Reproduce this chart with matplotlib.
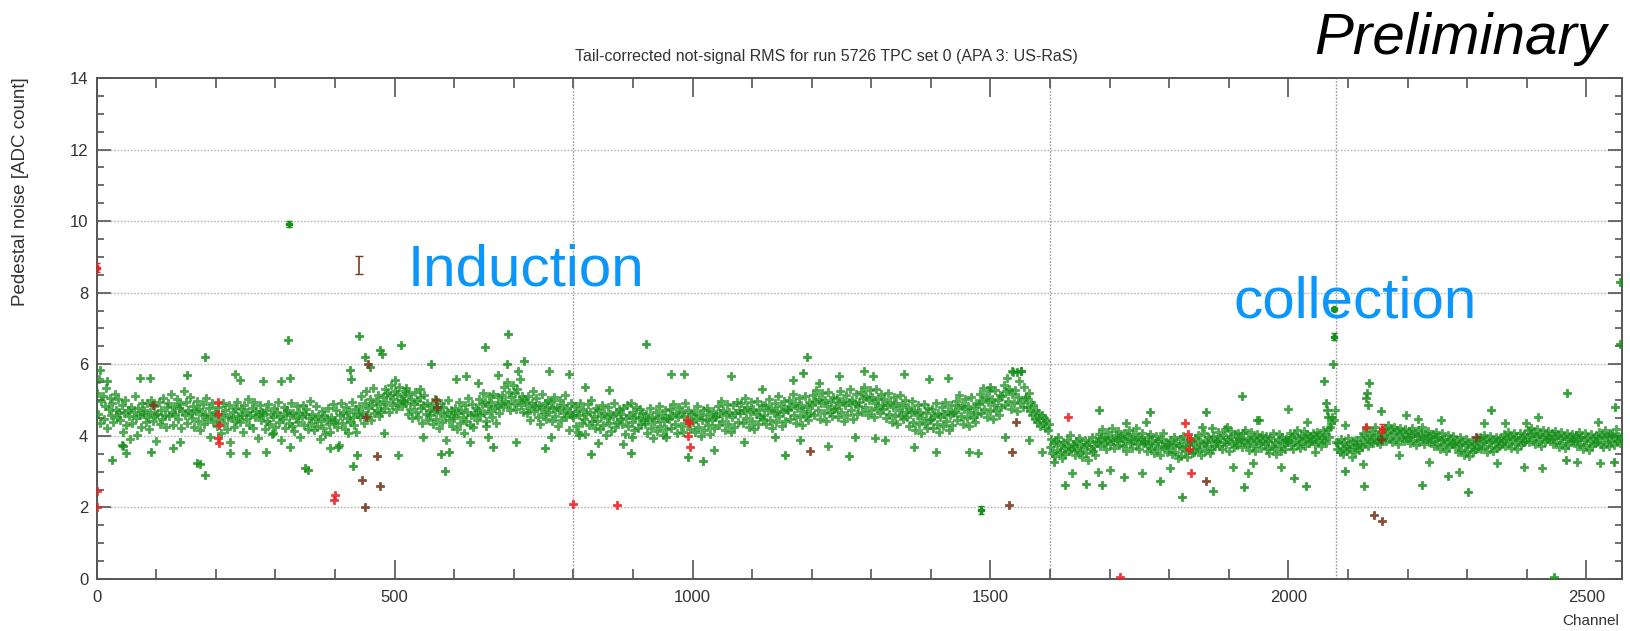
import numpy as np
import matplotlib
matplotlib.use('Agg')
import matplotlib.pyplot as plt
from matplotlib.ticker import MultipleLocator

# Pedestal noise per channel (every 2nd channel)
U_PLANE = [  # channels 0-799
    5.21, 4.62, 5.58, 4.35, 4.97, 5.12, 4.48, 4.83, 5.34, 4.21, 4.76, 5.05, 4.58, 4.92, 4.39, 5.18, 4.71, 4.54, 5.02, 4.66,
    4.44, 4.87, 4.12, 4.63, 5.01, 4.29, 4.72, 4.55, 3.91, 4.81, 4.36, 4.68, 5.12, 4.49, 4.03, 4.77, 4.58, 4.26, 4.93, 4.61,
    4.73, 4.38, 4.91, 4.52, 4.18, 4.66, 4.99, 4.41, 4.84, 4.57, 3.86, 4.62, 4.95, 4.33, 4.71, 4.48, 5.07, 4.59, 4.24, 4.80,
    4.92, 4.55, 5.18, 4.68, 4.31, 4.84, 4.61, 5.03, 4.46, 4.77, 4.89, 4.22, 4.70, 5.24, 4.58, 4.95, 4.37, 4.73, 5.09, 4.64,
    4.51, 4.83, 4.26, 4.69, 4.97, 4.42, 4.75, 4.15, 4.58, 4.88, 4.34, 4.62, 5.05, 4.47, 4.79, 3.98, 4.56, 4.91, 4.39, 4.66,
    4.62, 4.28, 4.81, 4.45, 4.09, 4.57, 4.93, 4.36, 4.71, 4.18, 4.53, 4.86, 3.82, 4.49, 4.67, 4.24, 4.78, 4.41, 4.96, 4.55,
    4.38, 4.74, 4.59, 4.12, 4.85, 4.47, 4.66, 5.02, 4.31, 4.58, 4.79, 4.22, 4.94, 4.53, 4.70, 3.95, 4.62, 4.87, 4.44, 4.68,
    4.57, 4.19, 4.73, 4.42, 4.88, 4.33, 4.61, 4.05, 4.52, 4.79, 4.26, 4.68, 4.95, 4.38, 4.55, 3.89, 4.47, 4.82, 4.23, 4.64,
    4.71, 4.35, 4.58, 4.92, 4.27, 4.64, 4.13, 4.49, 4.83, 4.40, 4.67, 3.98, 4.55, 4.86, 4.31, 4.62, 4.76, 4.18, 4.51, 4.97,
    4.36, 4.62, 4.15, 4.48, 4.83, 4.27, 4.55, 3.92, 4.41, 4.69, 4.22, 4.58, 4.04, 4.47, 4.78, 4.33, 4.11, 4.52, 4.88, 4.39,
    4.44, 4.71, 4.26, 3.74, 4.58, 4.92, 4.35, 4.63, 4.19, 4.81, 4.50, 4.08, 4.67, 4.38, 4.95, 4.54, 4.29, 4.76, 4.12, 4.61,
    4.83, 4.52, 5.11, 4.68, 4.35, 4.91, 5.24, 4.59, 4.77, 5.02, 4.44, 4.86, 5.33, 4.63, 4.98, 4.71, 5.15, 4.55, 4.89, 4.67,
    5.08, 4.79, 5.32, 4.95, 5.21, 4.68, 5.14, 5.41, 4.87, 5.03, 5.26, 4.74, 5.18, 4.92, 5.36, 5.01, 4.83, 5.12, 4.97, 5.24,
    4.93, 4.61, 5.16, 4.75, 5.02, 4.49, 4.88, 5.23, 4.67, 4.97, 4.54, 5.09, 4.78, 4.36, 4.85, 5.14, 4.62, 4.91, 4.43, 4.72,
    4.58, 4.86, 4.32, 4.69, 5.04, 4.47, 4.75, 4.21, 4.63, 4.92, 4.38, 4.81, 4.55, 3.89, 4.66, 4.99, 4.43, 4.72, 4.28, 4.57,
    4.49, 4.77, 4.18, 4.64, 4.95, 4.36, 4.71, 4.53, 4.08, 4.85, 4.42, 4.67, 5.06, 4.31, 4.58, 4.89, 4.24, 4.62, 4.79, 4.45,
    4.72, 5.03, 4.58, 4.89, 5.21, 4.65, 4.96, 4.41, 4.83, 5.12, 4.69, 4.94, 4.52, 5.17, 4.78, 4.35, 4.87, 5.08, 4.63, 4.91,
    5.14, 4.82, 5.36, 4.97, 5.51, 4.88, 5.23, 4.71, 5.08, 5.42, 4.93, 5.19, 4.76, 5.31, 4.99, 5.58, 4.85, 5.12, 4.67, 5.04,
    4.96, 4.63, 5.12, 4.78, 4.45, 4.91, 5.24, 4.69, 4.84, 5.05, 4.52, 4.87, 4.33, 4.75, 5.16, 4.61, 4.93, 4.48, 4.82, 5.01,
    4.68, 4.94, 4.41, 4.77, 5.09, 4.56, 4.82, 4.28, 4.71, 4.99, 4.45, 4.86, 4.63, 5.13, 4.52, 4.79, 4.17, 4.66, 4.91, 4.58,
]
V_PLANE = [  # channels 800-1599
    4.53, 4.84, 4.27, 4.69, 4.12, 4.58, 4.93, 4.36, 4.74, 4.47, 4.05, 4.62, 4.88, 4.31, 4.67, 4.99, 4.42, 4.56, 4.21, 4.78,
    4.41, 4.73, 4.18, 4.56, 4.87, 4.29, 4.64, 4.02, 4.49, 4.82, 4.35, 4.61, 4.13, 4.55, 4.91, 4.24, 4.68, 4.39, 4.76, 4.47,
    4.62, 4.34, 4.79, 4.06, 4.51, 4.86, 4.27, 4.58, 4.93, 4.38, 4.67, 4.15, 4.54, 4.82, 4.21, 4.49, 4.74, 4.32, 4.63, 4.45,
    4.33, 4.61, 4.08, 4.46, 4.79, 4.22, 4.54, 3.95, 4.38, 4.67, 4.14, 4.49, 4.83, 4.27, 4.58, 4.02, 4.42, 4.71, 4.19, 4.51,
    4.47, 4.75, 4.21, 4.58, 4.89, 4.33, 4.64, 4.09, 4.52, 4.81, 4.28, 4.67, 4.12, 4.55, 4.92, 4.36, 4.71, 4.44, 4.18, 4.62,
    4.38, 4.66, 4.12, 4.51, 4.84, 4.25, 4.57, 3.99, 4.43, 4.72, 4.17, 4.48, 4.79, 4.31, 4.62, 4.06, 4.45, 4.69, 4.22, 4.54,
    4.56, 4.83, 4.29, 4.65, 4.97, 4.41, 4.72, 4.17, 4.59, 4.88, 4.34, 4.68, 4.11, 4.52, 4.85, 4.26, 4.63, 4.94, 4.38, 4.71,
    4.64, 4.91, 4.37, 4.73, 5.06, 4.49, 4.81, 4.25, 4.67, 4.95, 4.42, 4.76, 4.19, 4.61, 4.98, 4.34, 4.72, 4.53, 4.87, 4.46,
    4.59, 4.86, 4.32, 4.71, 5.02, 4.44, 4.77, 4.21, 4.63, 4.92, 4.38, 4.69, 5.11, 4.55, 4.84, 4.27, 4.66, 4.98, 4.41, 4.74,
    4.73, 5.01, 4.46, 4.84, 5.17, 4.58, 4.91, 4.35, 4.78, 5.06, 4.52, 4.87, 4.29, 4.69, 5.12, 4.55, 4.82, 4.43, 4.96, 4.65,
    4.86, 5.14, 4.59, 4.97, 5.28, 4.71, 5.03, 4.48, 4.91, 5.19, 4.64, 4.99, 4.42, 4.83, 5.22, 4.67, 4.94, 4.55, 5.08, 4.76,
    4.79, 5.07, 4.53, 4.92, 5.24, 4.66, 4.98, 4.41, 4.85, 5.13, 4.58, 4.94, 5.31, 4.72, 5.01, 4.47, 4.89, 5.16, 4.62, 4.83,
    4.95, 5.22, 4.68, 5.06, 5.37, 4.81, 5.12, 4.57, 4.99, 5.28, 4.73, 5.09, 4.52, 4.93, 5.31, 4.77, 5.04, 4.64, 5.18, 4.86,
    4.76, 5.03, 4.49, 4.87, 5.19, 4.62, 4.94, 4.38, 4.81, 5.09, 4.55, 4.91, 4.33, 4.72, 5.13, 4.58, 4.85, 4.46, 4.99, 4.67,
    4.54, 4.82, 4.27, 4.66, 4.97, 4.39, 4.71, 4.16, 4.58, 4.87, 4.33, 4.68, 4.09, 4.51, 4.89, 4.36, 4.63, 4.22, 4.77, 4.45,
    4.48, 4.76, 4.22, 4.59, 4.91, 4.34, 4.65, 4.11, 4.53, 4.81, 4.27, 4.62, 4.96, 4.41, 4.69, 4.15, 4.57, 4.85, 4.31, 4.64,
    4.68, 4.97, 4.43, 4.81, 5.13, 4.56, 4.87, 4.32, 4.75, 5.04, 4.49, 4.84, 4.27, 4.66, 5.08, 4.53, 4.79, 4.38, 4.92, 4.61,
    4.89, 5.18, 4.63, 5.01, 5.34, 4.76, 5.08, 4.52, 4.95, 5.25, 4.69, 5.04, 4.46, 4.87, 5.29, 4.73, 4.99, 4.58, 5.13, 4.81,
    5.12, 5.41, 4.86, 5.24, 5.63, 4.98, 5.31, 4.74, 5.17, 5.78, 4.92, 5.27, 4.69, 5.09, 5.52, 4.95, 5.82, 4.81, 5.36, 5.03,
    5.08, 4.82, 5.21, 4.69, 4.94, 4.58, 4.86, 4.47, 4.73, 4.39, 4.65, 4.51, 4.28, 4.57, 4.36, 4.49, 4.21, 4.43, 4.15, 4.32,
]
X_PLANE_1 = [  # channels 1600-2079
    3.68, 3.91, 3.52, 3.79, 3.43, 3.86, 3.61, 3.97, 3.55, 3.74, 3.38, 3.82, 3.65, 3.49, 3.88, 3.71, 3.58, 4.02, 3.63, 3.77,
    3.72, 3.47, 3.85, 3.61, 3.94, 3.56, 3.78, 3.41, 3.69, 3.89, 3.53, 3.75, 3.33, 3.82, 3.64, 3.98, 3.59, 3.73, 3.46, 3.87,
    3.83, 4.06, 3.71, 3.95, 4.18, 3.79, 3.98, 3.62, 3.89, 4.12, 3.76, 3.93, 4.21, 3.85, 3.67, 4.03, 3.88, 4.14, 3.74, 3.96,
    3.94, 3.72, 4.09, 3.86, 3.58, 3.99, 4.15, 3.81, 3.92, 3.67, 4.04, 3.89, 4.22, 3.76, 3.97, 3.63, 3.91, 4.08, 3.79, 3.85,
    3.81, 3.59, 3.96, 3.74, 4.05, 3.66, 3.88, 3.51, 3.79, 4.01, 3.63, 3.85, 3.47, 3.92, 3.71, 4.09, 3.68, 3.83, 3.56, 3.77,
    3.66, 3.88, 3.49, 3.75, 3.97, 3.54, 3.79, 3.38, 3.71, 3.92, 3.45, 3.68, 3.99, 3.57, 3.83, 3.42, 3.74, 3.61, 3.86, 3.52,
    3.78, 3.55, 3.94, 3.69, 4.03, 3.62, 3.86, 3.47, 3.81, 4.07, 3.58, 3.84, 3.71, 3.96, 3.52, 3.89, 3.64, 4.01, 3.73, 3.87,
    3.86, 4.11, 3.73, 3.95, 3.64, 4.03, 3.82, 4.19, 3.77, 3.92, 3.58, 3.98, 4.14, 3.81, 3.69, 4.06, 3.87, 3.74, 4.09, 3.91,
    3.92, 3.68, 4.07, 3.84, 4.16, 3.76, 3.95, 3.61, 3.89, 4.12, 3.73, 3.98, 3.57, 3.87, 4.05, 3.79, 3.93, 3.66, 4.02, 3.85,
    3.77, 4.01, 3.63, 3.86, 3.52, 3.93, 3.71, 4.08, 3.66, 3.84, 3.49, 3.89, 4.04, 3.73, 3.58, 3.96, 3.79, 3.62, 3.91, 3.83,
    3.88, 4.09, 3.74, 3.97, 3.62, 4.04, 3.83, 4.17, 3.78, 3.95, 3.66, 4.01, 3.86, 4.13, 3.71, 3.93, 4.06, 3.79, 3.99, 3.85,
    3.91, 4.07, 3.76, 3.98, 4.12, 3.84, 4.03, 3.72, 3.95, 4.15, 3.88, 4.06, 3.81, 4.18, 3.97, 4.24, 4.36, 4.52, 4.43, 4.71,
]
X_PLANE_2 = [  # channels 2080-2559
    3.84, 3.62, 3.79, 3.54, 3.91, 3.67, 3.48, 3.82, 3.71, 3.58, 3.94, 3.63, 3.77, 3.42, 3.86, 3.69, 3.56, 3.88, 3.74, 3.61,
    3.78, 3.96, 3.69, 4.08, 3.84, 4.21, 3.91, 3.73, 4.02, 3.87, 4.14, 3.79, 3.98, 4.26, 3.83, 4.05, 3.92, 3.76, 4.11, 3.89,
    4.03, 4.21, 3.87, 4.12, 4.31, 3.95, 4.18, 3.82, 4.07, 4.26, 3.91, 4.15, 3.78, 4.04, 4.23, 3.93, 4.11, 3.86, 4.19, 3.98,
    3.97, 4.14, 3.81, 4.05, 4.22, 3.89, 4.09, 3.74, 3.99, 4.17, 3.85, 4.03, 4.25, 3.92, 3.77, 4.08, 3.94, 4.13, 3.83, 4.01,
    3.86, 4.04, 3.71, 3.93, 4.11, 3.78, 3.97, 3.62, 3.89, 4.07, 3.74, 3.92, 3.58, 3.84, 4.02, 3.69, 3.91, 3.76, 3.99, 3.81,
    3.72, 3.89, 3.54, 3.78, 3.96, 3.61, 3.83, 3.47, 3.74, 3.92, 3.58, 3.81, 3.43, 3.69, 3.87, 3.56, 3.76, 3.63, 3.94, 3.67,
    3.79, 3.96, 3.64, 3.87, 4.03, 3.71, 3.91, 3.55, 3.82, 4.01, 3.68, 3.89, 3.59, 3.84, 3.98, 3.66, 3.86, 3.73, 3.95, 3.77,
    3.88, 4.06, 3.73, 3.95, 4.12, 3.81, 4.01, 3.67, 3.92, 4.09, 3.77, 3.97, 3.64, 3.89, 4.08, 3.75, 3.94, 3.83, 4.04, 3.86,
    3.97, 4.15, 3.82, 4.04, 4.22, 3.89, 4.09, 3.76, 4.01, 4.18, 3.86, 4.06, 3.73, 3.98, 4.16, 3.84, 4.03, 3.91, 4.13, 3.94,
    3.91, 4.08, 3.76, 3.99, 4.14, 3.83, 4.03, 3.69, 3.94, 4.11, 3.79, 4.01, 3.66, 3.92, 4.09, 3.74, 3.97, 3.85, 4.06, 3.88,
    3.86, 4.03, 3.71, 3.94, 4.12, 3.78, 3.98, 3.64, 3.89, 4.07, 3.75, 3.96, 3.61, 3.87, 4.05, 3.72, 3.93, 3.81, 4.01, 3.84,
    3.93, 4.11, 3.77, 4.02, 3.68, 3.96, 4.15, 3.82, 3.99, 3.71, 4.08, 3.87, 4.04, 3.74, 3.95, 4.18, 3.85, 4.01, 3.79, 3.97,
]
PLANE_START = [0, 800, 1600, 2080]

# points on the upper / lower fringe of the band
FRINGE_CH = [5, 17, 73, 89, 232, 240, 280, 310, 324, 500, 519, 542, 603, 620, 640,
             42, 50, 128, 140, 223, 251, 285, 296, 324, 391, 483, 506, 548, 626, 657,
             673, 707, 759, 793, 819, 860, 964, 985, 1064, 1117, 1168, 1213, 1246, 1288,
             654, 704, 763, 810, 841, 883, 899, 955, 1036, 1086, 1139, 1181, 1228, 1273, 1306,
             1303, 1355, 1397, 1428, 1500, 1537, 1551,
             1323, 1371, 1408, 1464, 1479, 1525, 1564, 1586,
             1727, 1761, 1855, 1872, 1897, 1947, 1950, 1999, 2031, 2095, 2198, 2218, 2256, 2329, 2363, 2399, 2419, 2520,
             1606, 1637, 1681, 1701, 1754, 1801, 1907, 1932, 1941, 1988, 2044, 2125, 2186, 2236, 2286, 2350, 2395, 2426,
             2484, 2523]
FRINGE_VAL = [5.85, 5.52, 5.62, 5.62, 5.74, 5.57, 5.52, 5.52, 5.62, 5.57, 5.34, 5.31, 5.60, 5.66, 5.48,
              3.75, 3.51, 3.65, 3.84, 3.51, 3.51, 3.56, 4.07, 3.70, 3.65, 4.07, 3.47, 3.98, 3.84, 3.98,
              5.71, 5.80, 5.82, 5.74, 5.36, 5.29, 5.74, 5.74, 5.68, 5.31, 5.57, 5.48, 5.66, 5.80,
              4.28, 3.84, 3.98, 4.03, 3.81, 3.78, 3.98, 3.98, 3.61, 3.84, 3.98, 3.89, 3.72, 3.98, 3.93,
              5.68, 5.74, 5.59, 5.62, 5.36, 5.80, 5.80,
              3.89, 3.70, 3.56, 3.56, 3.53, 3.98, 3.89, 3.56,
              4.37, 4.40, 4.26, 4.21, 4.26, 4.45, 4.45, 4.74, 4.40, 4.29, 4.59, 4.47, 4.43, 4.37, 4.35, 4.35, 4.54, 4.40,
              3.28, 2.95, 3.00, 3.05, 2.95, 3.09, 3.14, 2.95, 3.24, 3.14, 3.56, 3.22, 3.47, 3.28, 2.98, 3.24, 3.14, 3.10,
              3.28, 3.24]

# single channels far off the band
GREEN_CH = [25, 45, 92, 152, 169, 173, 181, 182, 321, 350, 355, 405, 425, 427, 430, 437, 440, 450, 458, 475,
            479, 511, 561, 578, 585, 592, 652, 665, 689, 691, 718, 753, 830, 896, 922, 993, 1017, 1155, 1185, 1193,
            1262, 1545, 1626, 1660, 1682, 1687, 1724, 1767, 1784, 1821, 1862, 1874, 1923, 1926, 2010, 2030, 2060, 2063,
            2065, 2066, 2075, 2095, 2127, 2130, 2132, 2134, 2135, 2155, 2224, 2268, 2302, 2340, 2446, 2466, 2468, 2547,
            2548, 2556, 2556]
GREEN_VAL = [3.32, 3.72, 3.56, 5.70, 3.25, 3.20, 6.20, 2.90, 6.68, 3.10, 3.04, 3.70, 5.84, 5.60, 3.16, 3.46, 6.79, 6.20, 5.93, 6.40,
             6.28, 6.54, 6.00, 3.50, 3.03, 3.55, 6.49, 3.70, 6.00, 6.84, 6.09, 3.66, 3.49, 3.52, 6.58, 3.40, 3.30, 3.46, 5.75, 6.21,
             3.44, 5.79, 2.63, 2.65, 4.73, 2.63, 2.86, 4.66, 2.74, 2.30, 4.66, 2.45, 5.10, 2.56, 2.81, 2.59, 5.52, 4.93,
             4.73, 4.54, 6.00, 3.03, 2.60, 5.05, 5.19, 4.87, 5.49, 4.70, 2.63, 2.88, 2.44, 4.73, 0.05, 3.33, 5.19, 3.26,
             4.80, 6.57, 8.30]
GREEN_ERR_CH = [323, 1485, 2076, 2077]
GREEN_ERR_VAL = [9.93, 1.93, 6.77, 7.55]
GREEN_ERR = [0.08, 0.12, 0.10, 0.06]

RED_CH = [1, 1, 203, 204, 205, 204, 205, 399, 400, 800, 874, 990, 994, 993, 995,
          1630, 1717, 1826, 1832, 1835, 1834, 1836, 2130]
RED_VAL = [2.47, 2.00, 4.95, 4.60, 4.30, 3.95, 3.80, 2.22, 2.35, 2.09, 2.07, 4.45, 4.35, 4.00, 3.70,
           4.53, 0.05, 4.36, 4.06, 3.90, 3.62, 2.95, 4.26]
RED_ERR_CH = [0, 2157]
RED_ERR_VAL = [8.70, 4.20]
RED_ERR = [0.12, 0.12]

BROWN_CH = [94, 446, 451, 452, 455, 471, 475, 570, 572, 1197, 1532, 1536, 1543, 1862, 2143, 2158, 2155, 2315]
BROWN_VAL = [4.86, 2.77, 2.00, 4.53, 6.02, 3.44, 2.60, 5.00, 4.80, 3.58, 2.07, 3.56, 4.39, 2.75, 1.78, 1.62, 3.90, 3.98]
BROWN_ERR_CH = [441]
BROWN_ERR_VAL = [8.77]
BROWN_ERR = [0.25]

PLANE_EDGES = [800, 1600, 2080]

GREEN = '#17901b'
RED = '#ee2222'
BROWN = '#7a3a1e'
FONT = 'Liberation Sans'
PT = dict(s=26, marker='P', linewidths=0.5)

plt.rcParams['font.family'] = [FONT, 'DejaVu Sans']

fig = plt.figure(figsize=(16.30, 6.31), dpi=100)
ax = fig.add_axes([0.0593, 0.0824, 0.9358, 0.7940])

for start, vals in zip(PLANE_START, [U_PLANE, V_PLANE, X_PLANE_1, X_PLANE_2]):
    ch = start + 2 * np.arange(len(vals))
    ax.scatter(ch, vals, color=GREEN, edgecolors=GREEN, alpha=0.75, zorder=3, **PT)

ax.scatter(FRINGE_CH, FRINGE_VAL, color=GREEN, edgecolors=GREEN, alpha=0.8, zorder=3, **PT)
ax.scatter(GREEN_CH, GREEN_VAL, color=GREEN, edgecolors=GREEN, alpha=0.85, zorder=3, **PT)
ax.errorbar(GREEN_ERR_CH, GREEN_ERR_VAL, yerr=GREEN_ERR, fmt='P', ms=4.5, color=GREEN,
            elinewidth=1, capsize=2, zorder=3)
ax.scatter(RED_CH, RED_VAL, color=RED, edgecolors=RED, alpha=0.9, zorder=4, **PT)
ax.errorbar(RED_ERR_CH, RED_ERR_VAL, yerr=RED_ERR, fmt='P', ms=4, color=RED,
            elinewidth=1, capsize=2, zorder=4)
ax.scatter(BROWN_CH, BROWN_VAL, color=BROWN, edgecolors=BROWN, alpha=0.9, zorder=4, **PT)
ax.errorbar(BROWN_ERR_CH, BROWN_ERR_VAL, yerr=BROWN_ERR, fmt='none', color=BROWN,
            elinewidth=1.2, capsize=3, zorder=4)

# grid: dotted horizontals at major y, dotted verticals at plane edges
for yv in range(2, 14, 2):
    ax.axhline(yv, color='#b5b5b5', lw=1.0, ls=(0, (1.2, 1.2)), zorder=1)
for xv in PLANE_EDGES:
    ax.axvline(xv, color='#999999', lw=1.0, ls=(0, (1.2, 1.2)), zorder=1)

ax.set_xlim(0, 2560)
ax.set_ylim(0, 14)
ax.xaxis.set_major_locator(MultipleLocator(500))
ax.xaxis.set_minor_locator(MultipleLocator(100))
ax.yaxis.set_major_locator(MultipleLocator(2))
ax.yaxis.set_minor_locator(MultipleLocator(0.5))
ax.tick_params(which='both', direction='in', top=True, right=True, color='#555555',
               width=1.2, labelsize=12, labelcolor='#333333')
ax.tick_params(axis='x', which='major', length=13.5, pad=8)
ax.tick_params(axis='x', which='minor', length=7)
ax.tick_params(axis='y', which='major', length=10, pad=6)
ax.tick_params(axis='y', which='minor', length=5)
for sp in ax.spines.values():
    sp.set_color('#555555')
    sp.set_linewidth(1.4)

W, H = 1630, 631
fig.text(826 / W, 1 - 57 / H, 'Tail-corrected not-signal RMS for run 5726 TPC set 0 (APA 3: US-RaS)',
         ha='center', va='center', fontsize=11.5, color='#333333')
fig.text(1606 / W, 1 - 54 / H, 'Preliminary', ha='right', va='baseline', fontsize=42,
         style='italic', color='black')
fig.text(21 / W, 1 - 192 / H, 'Pedestal noise [ADC count]', rotation=90, ha='center', va='center',
         fontsize=13.5, color='#333333')
fig.text(1619 / W, 1 - 621 / H, 'Channel', ha='right', va='center', fontsize=11, color='#333333')
fig.text(526 / W, 1 - 286 / H, 'Induction', ha='center', va='baseline', fontsize=42, color='#0a96fa')
fig.text(1355 / W, 1 - 317 / H, 'collection', ha='center', va='baseline', fontsize=42, color='#0a96fa')

fig.savefig('out.png', dpi=100)
